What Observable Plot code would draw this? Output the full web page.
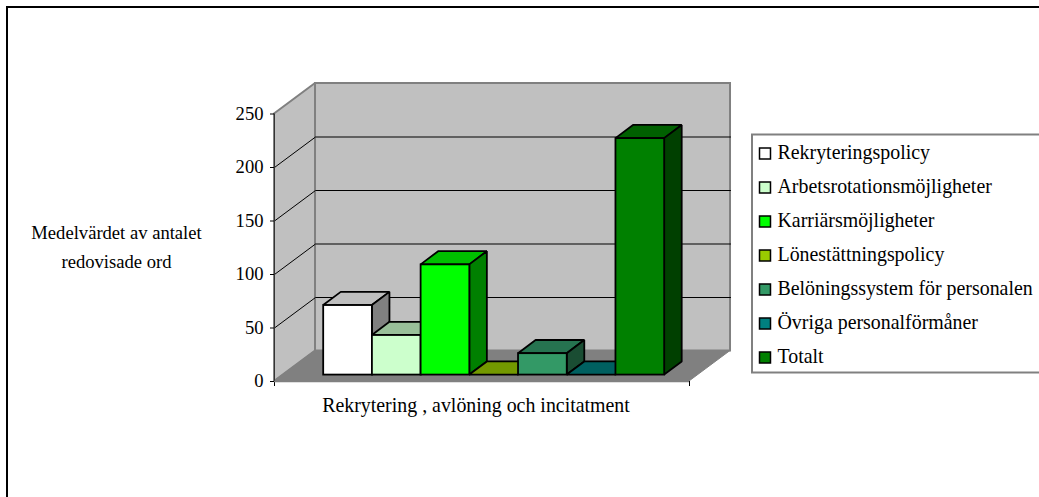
<!DOCTYPE html>
<html lang="sv">
<head>
<meta charset="utf-8">
<script src="https://cdn.jsdelivr.net/npm/d3@7"></script>
<script src="https://cdn.jsdelivr.net/npm/@observablehq/plot@0.6"></script>
<style>
  html, body { margin: 0; padding: 0; background: #fff; overflow: hidden; }
  #page { position: relative; width: 1039px; height: 497px; overflow: hidden; }
  #edge { position: absolute; left: 6px; top: 6px; right: 0; bottom: 0;
          border-left: 2px solid #000; border-top: 2px solid #000; }
  #chart, #key { position: absolute; }
  #chart { left: 0; top: 0; }
  #key { left: 750px; top: 133px; }
  svg { background: transparent !important; }
</style>
</head>
<body>
<div id="page">
  <div id="edge"></div>
  <div id="chart"></div>
  <div id="key"></div>
</div>
<script>
const series = ["Rekryteringspolicy", "Arbetsrotationsmöjligheter", "Karriärsmöjligheter",
  "Lönestättningspolicy", "Belöningssystem för personalen", "Övriga personalförmåner", "Totalt"];
const values = [65, 37, 103, 0, 20, 0, 221];
const frontColors = ["#ffffff", "#ccffcc", "#00ff00", "#99cc00", "#339966", "#008080", "#008000"];
const topColors   = ["#bfbfbf", "#99bf99", "#00bf00", "#739900", "#267350", "#006060", "#006000"];
const sideColors  = ["#808080", "#668066", "#008000", "#4d6600", "#1a4d33", "#004040", "#004000"];
const yTicks = [0, 50, 100, 150, 200, 250];
const gridValues = [50, 100, 150, 200];
const axisTitle = "Medelvärdet av antalet\nredovisade ord";
const categoryTitle = "Rekrytering , avlöning och incitatment";

// Oblique projection, in scale units: a bar is one unit wide.
const floorEnd = 8.52, wallDx = 0.842, wallDy = 28.5;
const barDx = 0.36, barDy = 12.3, barStartX = 1.01, barBase = 6;

const serif = "'Liberation Serif', 'Times New Roman', serif";

const barMarks = values.flatMap((v, i) => {
  const x0 = barStartX + i, x1 = x0 + 1;
  const y0 = barBase, y1 = barBase + v;
  const line = {stroke: "#000", strokeWidth: 1.8, strokeLinejoin: "miter"};
  return [
    Plot.areaX([{y: y1, a: x0, b: x1}, {y: y1 + barDy, a: x0 + barDx, b: x1 + barDx}],
      {y: "y", x1: "a", x2: "b", fill: topColors[i], ...line}),
    Plot.areaY([{x: x1, a: y0, b: y1}, {x: x1 + barDx, a: y0 + barDy, b: y1 + barDy}],
      {x: "x", y1: "a", y2: "b", fill: sideColors[i], ...line}),
    Plot.rect([{a: x0, b: x1, c: y0, d: y1}],
      {x1: "a", x2: "b", y1: "c", y2: "d", fill: frontColors[i], ...line})
  ];
});

const chart = Plot.plot({
  width: 1039,
  height: 497,
  marginLeft: 274,
  marginRight: 350,
  marginTop: 113.5,
  marginBottom: 116,
  style: {fontFamily: serif, fontSize: "16px", color: "#000", background: "transparent"},
  x: {domain: [0, floorEnd]},
  y: {domain: [0, 250]},
  marks: [
    // side wall
    Plot.areaY([{x: 0, a: 0, b: 250}, {x: wallDx, a: wallDy, b: 250 + wallDy}],
      {x: "x", y1: "a", y2: "b", fill: "#c0c0c0", stroke: "#808080", strokeWidth: 2}),
    // back wall
    Plot.rect([{a: wallDx, b: floorEnd + wallDx, c: wallDy, d: 250 + wallDy}],
      {x1: "a", x2: "b", y1: "c", y2: "d", fill: "#c0c0c0", stroke: "#808080", strokeWidth: 2}),
    // gridlines across both walls
    Plot.line(gridValues.flatMap(v => [
      {x: 0, y: v, v},
      {x: wallDx, y: v + wallDy, v},
      {x: floorEnd + wallDx, y: v + wallDy, v}
    ]), {x: "x", y: "y", z: "v", stroke: "#000", strokeWidth: 1}),
    // floor
    Plot.areaX([{y: 0, a: 0, b: floorEnd}, {y: wallDy, a: wallDx, b: floorEnd + wallDx}],
      {y: "y", x1: "a", x2: "b", fill: "#808080", stroke: "#808080", strokeWidth: 1}),
    ...barMarks,
    // axes
    Plot.axisY({ticks: yTicks, tickSize: 4, tickPadding: 7, label: null, stroke: "#000",
      fontSize: 18.6, tickFormat: d => d}),
    Plot.ruleX([0], {y1: 0, y2: 250, stroke: "#333", strokeWidth: 1}),
    Plot.axisX({ticks: [0, floorEnd], tickSize: 5, tickFormat: () => "", label: null, stroke: "#000"}),
    Plot.ruleY([0], {stroke: "#808080", strokeWidth: 1.5}),
    Plot.text([categoryTitle], {frameAnchor: "bottom", dx: -6, dy: 30, fontSize: 19.9, fill: "#000"}),
    Plot.text([axisTitle], {frameAnchor: "left", dx: -158, dy: -3.5, textAnchor: "middle",
      lineHeight: 1.56, fontSize: 18.6, fill: "#000"})
  ]
});
document.getElementById("chart").append(chart);

// Series key, one row per series.
const key = Plot.plot({
  width: 289,
  height: 241,
  marginLeft: 14.5,
  marginRight: 0,
  marginTop: 19,
  marginBottom: 17,
  style: {fontFamily: serif, fontSize: "16px", color: "#000", background: "transparent"},
  x: {domain: [0, 1], axis: null},
  y: {type: "point", domain: series, padding: 0, axis: null},
  marks: [
    Plot.frame({stroke: "#808080", strokeWidth: 2, insetLeft: -13, insetRight: -12, insetTop: -18, insetBottom: -15}),
    Plot.dot(series, {x: () => 0, y: d => d, symbol: "square", r: 6.2,
      fill: (d, i) => frontColors[i], stroke: "#000", strokeWidth: 1.5}),
    Plot.text(series, {x: () => 0, y: d => d, text: d => d, dx: 12.5, dy: -1, textAnchor: "start",
      fontSize: 19.9, fill: "#000"})
  ]
});
document.getElementById("key").append(key);
</script>
</body>
</html>
